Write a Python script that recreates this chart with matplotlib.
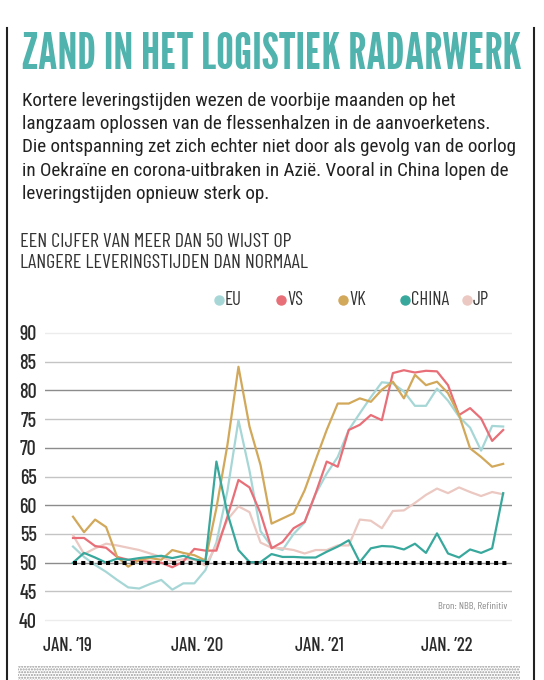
import matplotlib
matplotlib.use('Agg')
import matplotlib.pyplot as plt
from matplotlib.lines import Line2D
from matplotlib.patches import Rectangle
import numpy as np

# PMI suppliers' delivery times, monthly Jan 2019 - Apr 2022
eu = [52.8, 51.0, 49.6, 48.4, 47.0, 45.7, 45.5, 46.3, 47.0, 45.3,
      46.4, 46.4, 48.7, 53.5, 62.5, 74.8, 66.0, 55.5, 52.8, 52.2,
      55.0, 57.0, 62.0, 65.5, 68.4, 73.1, 76.0, 78.8, 81.4, 81.2,
      79.8, 77.3, 77.3, 80.3, 78.2, 75.4, 73.5, 69.5, 73.8, 73.7]
vs = [54.3, 54.3, 52.9, 52.6, 51.0, 50.5, 50.3, 50.2, 50.0, 49.2,
      50.2, 52.4, 52.1, 52.1, 58.0, 64.4, 63.1, 58.6, 52.5, 53.6,
      56.0, 57.1, 62.1, 67.6, 66.7, 73.1, 74.0, 75.7, 74.8, 83.0,
      83.5, 83.1, 83.4, 83.3, 80.9, 75.7, 76.9, 75.1, 71.2, 73.1]
vk = [58.0, 55.3, 57.5, 56.2, 51.0, 49.3, 50.5, 50.8, 50.5, 52.2,
      51.7, 51.3, 50.4, 59.5, 70.5, 84.1, 73.7, 67.0, 56.8, 57.7,
      58.6, 62.6, 67.9, 73.1, 77.7, 77.7, 78.6, 78.0, 80.1, 81.5,
      78.6, 82.7, 80.9, 81.5, 79.5, 75.7, 69.9, 68.4, 66.7, 67.2]
china = [50.0, 51.7, 50.9, 50.0, 50.7, 50.5, 50.8, 51.0, 51.2, 50.8,
         51.2, 50.6, 50.2, 67.6, 58.6, 52.2, 50.1, 50.1, 51.5, 51.0,
         51.0, 50.9, 50.9, 51.9, 52.8, 53.9, 50.1, 52.5, 52.9, 52.8,
         52.3, 53.3, 51.7, 55.1, 51.6, 50.9, 52.3, 51.7, 52.5, 62.1]
jp = [54.8, 51.5, 52.5, 53.3, 53.0, 52.6, 52.2, 51.6, 51.0, 50.2,
      50.6, 50.5, 49.5, 53.0, 57.5, 59.8, 58.8, 53.5, 52.6, 52.5,
      52.2, 51.6, 52.2, 52.2, 53.0, 53.0, 57.5, 57.3, 56.0, 59.0,
      59.1, 60.4, 61.8, 62.9, 62.1, 63.1, 62.3, 61.6, 62.3, 61.9]

series_names = ['EU', 'VS', 'VK', 'CHINA', 'JP']
series_colors = ['#a6d7d6', '#e86f78', '#d2a85a', '#38a89d', '#ebc8c1']
x_labels = ["JAN. \u201919", "JAN. \u201920", "JAN. \u201921", "JAN. \u201922"]
y_ticks = list(range(40, 95, 5))
threshold = 50

title = 'ZAND IN HET LOGISTIEK RADARWERK'
intro = ['Kortere leveringstijden wezen de voorbije maanden op het',
         'langzaam oplossen van de flessenhalzen in de aanvoerketens.',
         'Die ontspanning zet zich echter niet door als gevolg van de oorlog',
         'in Oekra\u00efne en corona-uitbraken in Azi\u00eb. Vooral in China lopen de',
         'leveringstijden opnieuw sterk op.']
subtitle = ['EEN CIJFER VAN MEER DAN 50 WIJST OP',
            'LANGERE LEVERINGSTIJDEN DAN NORMAAL']
source = 'Bron: NBB, Refinitiv'

TITLE_FONT = ['League Gothic', 'Oswald', 'DejaVu Sans']
BODY_FONT = ['Roboto Condensed', 'DejaVu Sans']
LABEL_FONT = ['Barlow Condensed', 'DejaVu Sans']
plt.rcParams['font.family'] = LABEL_FONT

W, H = 544, 680


def fx(px):
    return px / W


def fy(py):
    return 1 - py / H


fig = plt.figure(figsize=(W / 100, H / 100), dpi=100)

# ---------------- chart ----------------
ax = fig.add_axes([fx(45), fy(623), fx(512) - fx(45), fy(330) - fy(623)])
months = np.arange(len(eu))
all_series = [eu, vs, vk, china, jp]
for k in [0, 4, 1, 2, 3]:
    ax.plot(months, all_series[k], color=series_colors[k], lw=1.6, zorder=3)

for v in y_ticks:
    if v in (40, 90):
        c = '#ececec'
    elif v % 10 == 0:
        c = '#8c8c8c'
    else:
        c = '#c4c4c4'
    ax.axhline(v, color=c, lw=1.0, zorder=1)

ax.hlines(threshold, months[0], months[-1] + 0.5, colors='black', lw=2.9,
          linestyles=(0, (1.0, 1.05)), zorder=5)

ax.set_ylim(39.5, 90.5)
ax.set_xlim(-2.54, 39.8)
ax.set_yticks(y_ticks)
ax.set_yticklabels([str(v) for v in y_ticks])
# labels sit a bit left of the January points in the original
ax.set_xticks([-0.5, 11.25, 22.3, 33.9])
ax.set_xticklabels(x_labels)
ax.tick_params(axis='y', length=0, pad=6, labelsize=14.5, labelcolor='#2b2b2b')
ax.tick_params(axis='x', length=0, pad=10, labelsize=13.5, labelcolor='#2b2b2b')
for lab in ax.get_xticklabels() + ax.get_yticklabels():
    lab.set_fontweight('medium')
for s in ax.spines.values():
    s.set_visible(False)
ax.set_facecolor('none')

ax.text(0.99, 0.058, source, transform=ax.transAxes, ha='right', va='center',
        fontsize=7.5, color='#8a8a8a')

# ---------------- legend ----------------
for k, name in enumerate(series_names):
    x0 = 219 + 62 * k
    fig.add_artist(Line2D([fx(x0)], [fy(300)], marker='o', markersize=6.5,
                          color=series_colors[k], transform=fig.transFigure))
    fig.text(fx(x0 + 6), fy(300), name, ha='left', va='center', fontsize=13.5,
             color='#333333')

# ---------------- texts ----------------
t_title = fig.text(fx(22), fy(55), title, fontsize=40,
                   family=TITLE_FONT, color='#50b3ad', va='center', ha='left')
t_intro = [fig.text(fx(22), fy(101 + 23.2 * i), line, fontsize=13,
                    family=BODY_FONT, color='#222222', va='center', ha='left')
           for i, line in enumerate(intro)]
t_sub = [fig.text(fx(20), fy(242 + 21 * i), line, fontsize=12,
                  color='#333333', va='center', ha='left')
         for i, line in enumerate(subtitle)]


def fit_width(texts, ref, target_px):
    fig.canvas.draw()
    r = fig.canvas.get_renderer()
    w = texts[ref].get_window_extent(r).width
    s = texts[ref].get_fontsize() * target_px / w
    for t in texts:
        t.set_fontsize(s)


fit_width([t_title], 0, 500)
fit_width(t_intro, 2, 496)
fit_width(t_sub, 1, 288)

# frame lines and dotted footer band
fig.add_artist(Line2D([fx(7), fx(7)], [fy(28), fy(680)], color='#222222',
                      lw=1.5, transform=fig.transFigure))
fig.add_artist(Line2D([fx(534), fx(534)], [fy(28), fy(680)], color='#222222',
                      lw=1.5, transform=fig.transFigure))
fig.add_artist(Rectangle((fx(18), fy(680)), fx(520) - fx(18), fy(666) - fy(680),
                         transform=fig.transFigure, facecolor='none',
                         edgecolor='#9a9a9a', hatch='......', lw=0))

fig.savefig('out.png', dpi=100)
